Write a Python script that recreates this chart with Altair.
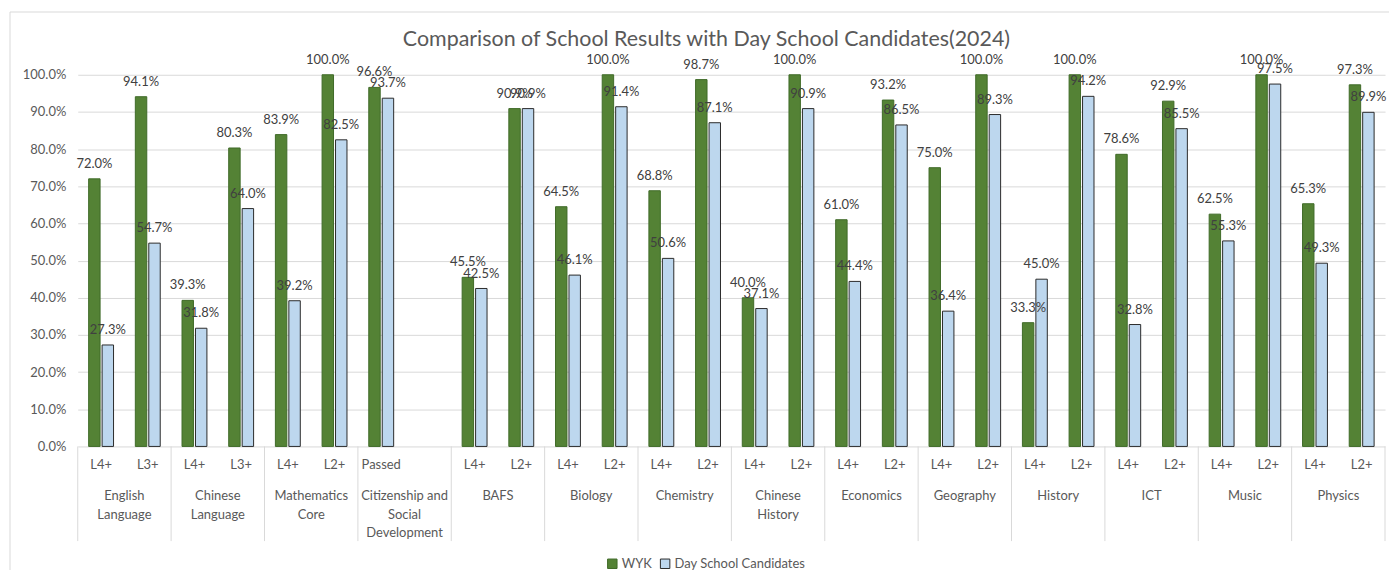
import altair as alt
import pandas as pd

title_text = ["Comparison of School Results with Day School Candidates(2024)"]
subjects = ["English\nLanguage", "Chinese\nLanguage", "Mathematics\nCore",
            "Citizenship and\nSocial\nDevelopment", "BAFS", "Biology", "Chemistry",
            "Chinese\nHistory", "Economics", "Geography", "History", "ICT", "Music", "Physics"]
level_a = ["L4+", "L4+", "L4+", "Passed", "L4+", "L4+", "L4+", "L4+", "L4+", "L4+", "L4+", "L4+", "L4+", "L4+"]
level_b = ["L3+", "L3+", "L2+", "", "L2+", "L2+", "L2+", "L2+", "L2+", "L2+", "L2+", "L2+", "L2+", "L2+"]
wyk_a = [72.0, 39.3, 83.9, 96.6, 45.5, 64.5, 68.8, 40.0, 61.0, 75.0, 33.3, 78.6, 62.5, 65.3]
day_a = [27.3, 31.8, 39.2, 93.7, 42.5, 46.1, 50.6, 37.1, 44.4, 36.4, 45.0, 32.8, 55.3, 49.3]
wyk_b = [94.1, 80.3, 100.0, None, 90.9, 100.0, 98.7, 100.0, 93.2, 100.0, 100.0, 92.9, 100.0, 97.3]
day_b = [54.7, 64.0, 82.5, None, 90.9, 91.4, 87.1, 90.9, 86.5, 89.3, 94.2, 85.5, 97.5, 89.9]
series = ["WYK", "Day School Candidates"]
y_ticks = [0.0, 0.1, 0.2, 0.3, 0.4, 0.5, 0.6, 0.7, 0.8, 0.9, 1.0]

FONT = "Lato"
GREEN, BLUE = "#548235", "#BDD7EE"
TXT = "#595959"

keys, rows, subj_rows, first_keys = [], [], [], []
for i, s in enumerate(subjects):
    ka = f"{i:02d}a|{level_a[i]}"
    kb = f"{i:02d}b|{level_b[i]}"
    keys += [ka, kb]
    first_keys.append({"key": ka})
    subj_rows.append({"key": ka, "subject": s})
    for k, w, d in [(ka, wyk_a[i], day_a[i]), (kb, wyk_b[i], day_b[i])]:
        if w is not None:
            rows.append({"key": k, "series": series[0], "v": w / 100})
            rows.append({"key": k, "series": series[1], "v": d / 100})

df = pd.DataFrame(rows)
subj_df = pd.DataFrame(subj_rows)
sep_df = pd.DataFrame(first_keys)
last_df = pd.DataFrame([{"key": keys[-1]}])
title_df = pd.DataFrame({"t": title_text})

W, H = 1312, 373

xscale = alt.Scale(domain=keys, paddingInner=0, paddingOuter=0)
xoff = alt.XOffset("series:N", scale=alt.Scale(domain=series, paddingInner=0.15, paddingOuter=0.81))
yscale = alt.Scale(domain=[0, 1])

x_axis = alt.Axis(labelExpr="split(datum.value, '|')[1]", ticks=False, domain=False,
                  labelFont=FONT, labelFontSize=13, labelColor=TXT, labelPadding=12,
                  labelAngle=0, labelOverlap=False, grid=False, bandPosition=0.5,
                  labelAlign="center", labelBaseline="top")
y_axis = alt.Axis(format=".1%", values=y_ticks, ticks=False, domain=False,
                  labelFont=FONT, labelFontSize=13, labelColor=TXT, labelPadding=12,
                  labelOverlap=False, gridColor="#d9d9d9", gridWidth=1)


def xk(**kw):
    return alt.X("key:N", scale=xscale, sort=keys, title=None, axis=x_axis, **kw)


def yv():
    return alt.Y("v:Q", scale=yscale, title=None, axis=y_axis)


bars = alt.Chart(df).mark_bar(strokeWidth=1).encode(
    x=xk(),
    xOffset=xoff,
    y=yv(),
    fill=alt.Fill("series:N", scale=alt.Scale(domain=series, range=[GREEN, BLUE]), title=None,
                  legend=alt.Legend(orient="none", legendX=530, legendY=484, direction="horizontal",
                                    symbolType="square", symbolSize=90, labelFont=FONT, labelFontSize=13,
                                    labelColor=TXT, columnPadding=5, labelOffset=3, symbolStrokeWidth=1)),
    stroke=alt.Stroke("series:N", scale=alt.Scale(domain=series, range=["#3f6a28", "#2b2b2b"]), title=None),
)

labels = alt.Chart(df).mark_text(font=FONT, fontSize=13, color="#404040", baseline="middle", dy=-15).encode(
    x=xk(),
    xOffset=xoff,
    y=yv(),
    text=alt.Text("v:Q", format=".1%"),
)

subj = alt.Chart(subj_df).mark_text(font=FONT, fontSize=13, color=TXT, baseline="top", align="center",
                                    lineBreak="\n", lineHeight=18.5).encode(
    x=xk(bandPosition=1),
    y=alt.value(H + 44),
    text="subject:N",
)

seps = alt.Chart(sep_df).mark_rule(color="#d9d9d9", strokeWidth=1).encode(
    x=xk(bandPosition=0),
    y=alt.value(H), y2=alt.value(H + 95),
)
sep_last = alt.Chart(last_df).mark_rule(color="#d9d9d9", strokeWidth=1).encode(
    x=xk(bandPosition=1),
    y=alt.value(H), y2=alt.value(H + 95),
)

border_top = alt.Chart(last_df).mark_rule(color="#d9d9d9", strokeWidth=1).encode(
    x=alt.value(-68), x2=alt.value(W + 4), y=alt.value(-63),
)
border_left = alt.Chart(last_df).mark_rule(color="#d9d9d9", strokeWidth=1).encode(
    x=alt.value(-68), y=alt.value(-63), y2=alt.value(H + 124),
)

title = alt.Chart(title_df).mark_text(font=FONT, fontSize=21.5, color=TXT, align="center",
                                      baseline="middle").encode(
    x=alt.value(W / 2 - 25), y=alt.value(-35), text="t:N",
)

chart = alt.layer(border_top, border_left, bars, seps, sep_last, labels, subj, title).properties(
    width=W, height=H,
    padding={"left": 1, "top": 2, "right": 0, "bottom": 0},
).configure_view(stroke=None)

chart.save("out.html", embed_options={"renderer": "svg", "actions": False})
